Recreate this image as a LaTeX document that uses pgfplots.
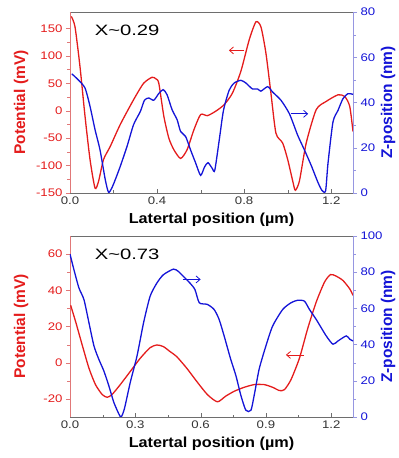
\documentclass[border=0pt]{standalone}
\usepackage{fontspec}
\setmainfont{Liberation Sans}
\newfontfamily\tickfont{Liberation Sans}[FakeStretch=1.2]
\newfontfamily\xlabfont{Liberation Sans}[FakeStretch=1.12]
\newfontfamily\annfont{Liberation Sans}[FakeStretch=1.35]
\usepackage{pgfplots}
\pgfplotsset{compat=1.18}
\usetikzlibrary{arrows.meta}
\definecolor{myred}{RGB}{228,28,28}
\definecolor{myblue}{RGB}{20,20,215}
\definecolor{redaxis}{RGB}{225,120,120}
\definecolor{blueaxis}{RGB}{150,150,225}
\definecolor{gaxis}{RGB}{110,110,110}

\pgfplotsset{
  base/.style={scale only axis, width=283pt, height=181pt, xmin=0, xmax=1.3,
    /pgf/number format/assume math mode=true,
    tick label style={font=\tickfont\fontsize{11}{13}\selectfont},
    ytick align=outside, xtick align=inside,
    major tick length=4pt, minor tick length=2.5pt,
  },
  leftax/.style={base, axis y line*=left, axis x line*=box, xtick pos=bottom,
    x axis line style={gaxis}, y axis line style={redaxis},
    xtick style={gaxis}, ytick style={redaxis},
    yticklabel style={color=myred}, xticklabel style={color=black!80},
    minor x tick num=1, minor y tick num=1,
    xticklabel={\pgfmathprintnumber[fixed,fixed zerofill,precision=1]{\tick}},
    xlabel={\xlabfont\bfseries\fontsize{14.5}{16}\selectfont Latertal position (µm)},
    xlabel style={at={(axis description cs:0.5,-0.15)}, anchor=center},
    ylabel={Potential (mV)},
    ylabel style={at={(axis description cs:-0.173,0.5)}, anchor=center, color=myred, font=\bfseries\fontsize{15.5}{17}\selectfont},
  },
  rightax/.style={base, axis y line*=right, axis x line=none,
    y axis line style={blueaxis}, ytick style={blueaxis},
    yticklabel style={color=myblue}, minor y tick num=1,
    ylabel={Z-position (nm)},
    ylabel style={at={(axis description cs:1.124,0.5)}, anchor=center, color=myblue, font=\bfseries\fontsize{15.5}{17}\selectfont},
  },
  redline/.style={color=myred, line width=1.3pt, smooth, tension=0.4},
  blueline/.style={color=myblue, line width=1.3pt, smooth, tension=0.4},
}

\begin{document}
\begin{tikzpicture}
\useasboundingbox (-70pt,-41pt) rectangle (329pt,417pt);
% ---------- top panel ----------
\begin{axis}[leftax, at={(0,224pt)}, ymin=-150, ymax=180, ytick={-150,-100,...,150}, xtick={0,0.4,0.8,1.2}]
\addplot[redline] coordinates {
(0.006,172) (0.023,153) (0.046,80) (0.069,-10) (0.092,-89) (0.115,-141) (0.131,-129)
(0.154,-89) (0.185,-65) (0.231,-25) (0.292,20) (0.338,50) (0.377,61) (0.395,58)
(0.408,50) (0.431,-10) (0.454,-50) (0.477,-71) (0.508,-87) (0.538,-71) (0.569,-35)
(0.600,-7) (0.631,-9) (0.669,-1) (0.708,11) (0.746,32) (0.785,72) (0.823,129)
(0.854,162) (0.877,153) (0.900,105) (0.923,32) (0.946,-41) (0.977,-59) (1.000,-89)
(1.023,-128) (1.035,-145) (1.054,-128) (1.085,-59) (1.131,2) (1.177,17) (1.231,29)
(1.262,26) (1.285,8) (1.300,-38)
};
\draw[myred, line width=0.8pt, -{Straight Barb[length=4pt,width=7pt]}] (axis cs:0.80,110) -- (axis cs:0.73,110);
\node[anchor=west, font=\annfont\fontsize{15}{17}\selectfont] at (axis description cs:0.075,0.90) {X\textasciitilde0.29};
\end{axis}
\begin{axis}[rightax, at={(0,224pt)}, ymin=0, ymax=80, ytick={0,20,...,80}]
\addplot[blueline] coordinates {
(0.008,52.7) (0.038,50) (0.069,46.4) (0.092,38.3) (0.115,28) (0.138,19) (0.162,5.9)
(0.177,0.3) (0.192,2.2) (0.208,5.9) (0.231,11.8) (0.262,20.6) (0.292,30.2) (0.323,36)
(0.342,41) (0.362,42) (0.385,41) (0.408,44) (0.428,45.7) (0.446,43.4) (0.469,36.8)
(0.492,32.4) (0.508,27.2) (0.531,25) (0.554,19) (0.577,13.3) (0.600,7.8) (0.618,11.5)
(0.634,13.4) (0.654,10.8) (0.665,10) (0.685,23) (0.705,36.5) (0.731,45.4) (0.754,48.6)
(0.785,49.8) (0.808,48.6) (0.838,46) (0.862,46) (0.877,45) (0.908,47) (0.931,44.6)
(0.969,41) (1.008,35) (1.046,25.5) (1.077,19) (1.108,12.2) (1.138,4.9) (1.157,1.2)
(1.174,0.9) (1.185,13) (1.208,31.4) (1.231,36.5) (1.254,41.7) (1.277,43.9) (1.300,43.6)
};
\draw[myblue, line width=0.8pt, -{Straight Barb[length=4pt,width=7pt]}] (axis cs:1.015,35) -- (axis cs:1.094,35);
\end{axis}
% ---------- bottom panel ----------
\begin{axis}[leftax, at={(0,0)}, ymin=-30, ymax=70, ytick={-20,0,...,60}, xtick={0,0.3,...,1.2}]
\addplot[redline] coordinates {
(0.003,31.7) (0.026,22.6) (0.056,9.8) (0.087,-3) (0.117,-12.1) (0.148,-17.6) (0.171,-19.1)
(0.193,-17.6) (0.231,-12.1) (0.277,-4.8) (0.323,2.5) (0.368,8.3) (0.399,9.8) (0.429,8.9)
(0.460,6.1) (0.490,3.4) (0.536,-3) (0.582,-10.3) (0.631,-17.6) (0.677,-21.6) (0.715,-18.5)
(0.754,-15.8) (0.800,-13.6) (0.846,-12.1) (0.892,-12.1) (0.931,-13.6) (0.962,-15.4)
(0.985,-14.9) (1.015,-9.4) (1.054,2.5) (1.092,18.9) (1.131,33.5) (1.169,44.5) (1.197,48.7)
(1.223,47.8) (1.254,45.4) (1.285,40.8) (1.300,37.2)
};
\draw[myred, line width=0.8pt, -{Straight Barb[length=4pt,width=7pt]}] (axis cs:1.075,4.3) -- (axis cs:0.992,4.3);
\node[anchor=west, font=\annfont\fontsize{15}{17}\selectfont] at (axis description cs:0.075,0.90) {X\textasciitilde0.73};
\end{axis}
\begin{axis}[rightax, at={(0,0)}, ymin=0, ymax=100, ytick={0,20,...,100}]
\addplot[blueline] coordinates {
(0,90) (0.018,81.4) (0.041,71.3) (0.064,64.9) (0.087,52.1) (0.110,39.3) (0.132,32)
(0.155,25.6) (0.178,17.4) (0.201,8.2) (0.224,1.8) (0.235,0) (0.250,4.6) (0.277,19.2)
(0.308,33.8) (0.338,52.1) (0.368,66.7) (0.399,74) (0.429,78.6) (0.475,81.7) (0.498,80.4)
(0.528,76.8) (0.551,74) (0.574,70.4) (0.594,63.1) (0.631,62.2) (0.662,59.4) (0.685,53.9)
(0.708,44.8) (0.738,32) (0.762,22.9) (0.785,11.9) (0.808,3.7) (0.831,3.7) (0.846,11.9)
(0.869,26.5) (0.900,39.3) (0.931,50.3) (0.977,59.4) (1.015,63.1) (1.046,64.5) (1.077,64)
(1.100,59.4) (1.131,53.9) (1.177,44.8) (1.208,40.2) (1.231,42) (1.269,44.8) (1.285,43)
(1.300,42)
};
\draw[myblue, line width=0.8pt, -{Straight Barb[length=4pt,width=7pt]}] (axis cs:0.517,76) -- (axis cs:0.600,76);
\end{axis}
\end{tikzpicture}
\end{document}
